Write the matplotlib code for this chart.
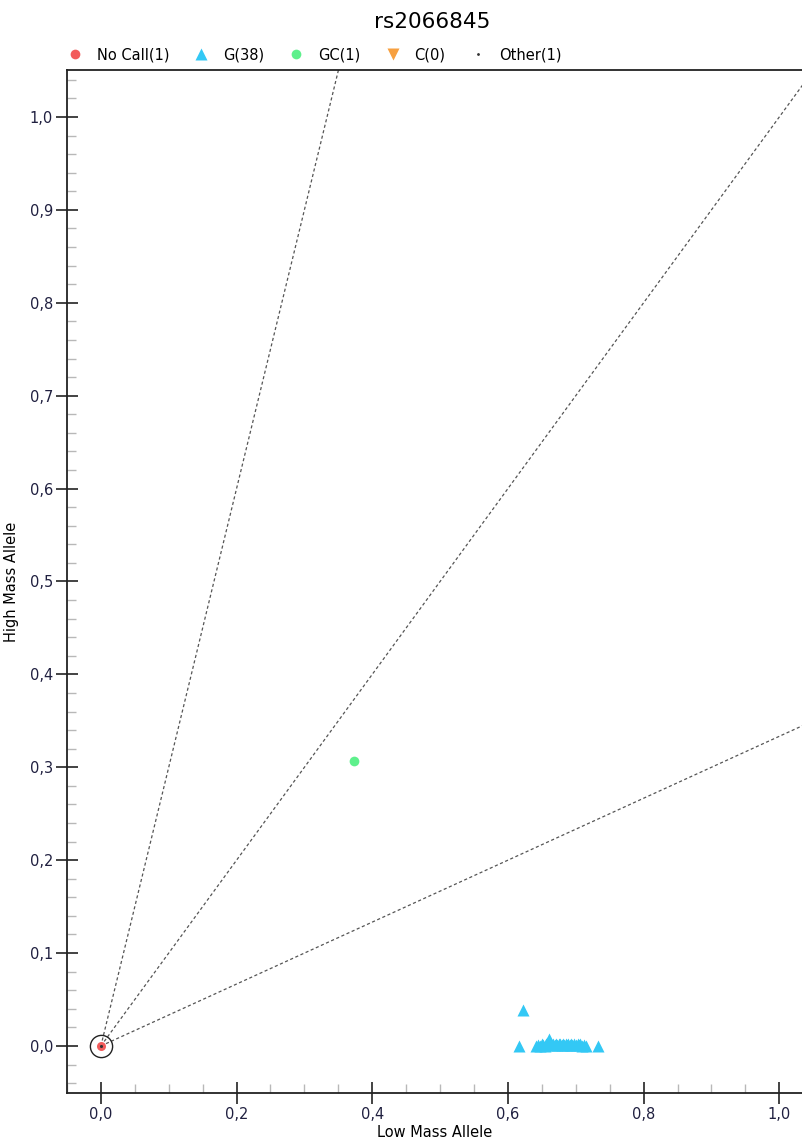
import numpy as np
import matplotlib
matplotlib.use('Agg')
import matplotlib.pyplot as plt
from matplotlib.ticker import MultipleLocator, FuncFormatter
from matplotlib.lines import Line2D


title = 'rs2066845'

# Genotype calls.
nocall_x = [0.0]
nocall_y = [0.0]

g_x = [0.617, 0.622, 0.733, 0.661,
       0.642, 0.645, 0.648, 0.650, 0.652, 0.654, 0.656, 0.658, 0.660,
       0.663, 0.665, 0.667, 0.669, 0.671, 0.673, 0.675, 0.677, 0.679,
       0.681, 0.683, 0.685, 0.687, 0.689, 0.691, 0.693, 0.695, 0.698,
       0.700, 0.703, 0.705, 0.707, 0.709, 0.712, 0.715]
g_y = [0.000, 0.039, 0.000, 0.007,
       0.000, 0.001, 0.000, 0.002, 0.001, 0.000, 0.002, 0.003, 0.003,
       0.002, 0.001, 0.002, 0.001, 0.002, 0.001, 0.002, 0.002, 0.001,
       0.002, 0.001, 0.002, 0.001, 0.002, 0.001, 0.002, 0.001, 0.002,
       0.001, 0.002, 0.001, 0.002, 0.000, 0.001, 0.000]

gc_x = [0.373]
gc_y = [0.307]

c_x = []
c_y = []

other_x = [0.0]
other_y = [0.0]

# Cluster boundary lines drawn out from the origin.
boundary_slopes = [3.0, 1.0, 1.0 / 3.0]

labels = ['No Call(1)', 'G(38)', 'GC(1)', 'C(0)', 'Other(1)']

red = '#f25c5c'
blue = '#33c8f5'
green = '#5ef08c'
orange = '#f7a040'

fig = plt.figure(figsize=(8.03, 11.44), dpi=100)
ax = fig.add_axes([0.0834, 0.0446, 0.9166, 0.8942])

ray = np.array([0.0, 2.0])
for s in boundary_slopes:
    ax.plot(ray, s * ray, color='#555555', lw=0.9, ls=(0, (2.5, 2)), zorder=1)

ax.plot(g_x, g_y, '^', color=blue, ms=9, mec='none', zorder=3)
ax.plot(gc_x, gc_y, 'o', color=green, ms=7, mec='none', zorder=3)
ax.plot(c_x, c_y, 'v', color=orange, ms=9, mec='none', zorder=3)
ax.plot(nocall_x, nocall_y, 'o', color=red, ms=6.5, mec='none', zorder=3)
ax.plot(other_x, other_y, '.', color='#333333', ms=2.5, zorder=4)
# highlight ring round the no-call sample
ax.plot(nocall_x, nocall_y, 'o', mfc='none', mec='#222222', mew=1.0, ms=16, zorder=4)

ax.set_xlim(-0.05, 1.035)
ax.set_ylim(-0.0506, 1.0506)

ax.xaxis.set_major_locator(MultipleLocator(0.2))
ax.xaxis.set_minor_locator(MultipleLocator(0.05))
ax.yaxis.set_major_locator(MultipleLocator(0.1))
ax.yaxis.set_minor_locator(MultipleLocator(0.02))
comma = FuncFormatter(lambda v, p: f'{v:.1f}'.replace('.', ','))
ax.xaxis.set_major_formatter(comma)
ax.yaxis.set_major_formatter(comma)

ax.tick_params(which='major', direction='inout', length=16, width=1.2,
               color='#222222', labelsize=10.5, labelcolor='#202040', pad=2)
ax.tick_params(which='minor', direction='in', length=6.5, width=1.0,
               color='#b8b8b8')
ax.tick_params(axis='x', which='both', top=False)
ax.tick_params(axis='y', which='both', right=False)

for side in ['left', 'bottom', 'top']:
    ax.spines[side].set_color('#222222')
    ax.spines[side].set_linewidth(1.3)
ax.spines['right'].set_visible(False)

ax.set_xlabel('Low Mass Allele', fontsize=10.5, labelpad=2)
ax.set_ylabel('High Mass Allele', fontsize=10.5, labelpad=8)

fig.text(0.538, 0.981, title, ha='center', va='center', fontsize=15.5)

handles = [
    Line2D([], [], ls='none', marker='o', color=red, ms=7, mec='none'),
    Line2D([], [], ls='none', marker='^', color=blue, ms=9, mec='none'),
    Line2D([], [], ls='none', marker='o', color=green, ms=7, mec='none'),
    Line2D([], [], ls='none', marker='v', color=orange, ms=9, mec='none'),
    Line2D([], [], ls='none', marker='.', color='#333333', ms=2),
]
fig.legend(handles, labels, loc='center left', bbox_to_anchor=(0.075, 0.952),
           ncol=5, frameon=False, fontsize=10.5, handlelength=1.2,
           handletextpad=0.9, columnspacing=1.6, borderaxespad=0)

fig.savefig('out.png', dpi=100)
